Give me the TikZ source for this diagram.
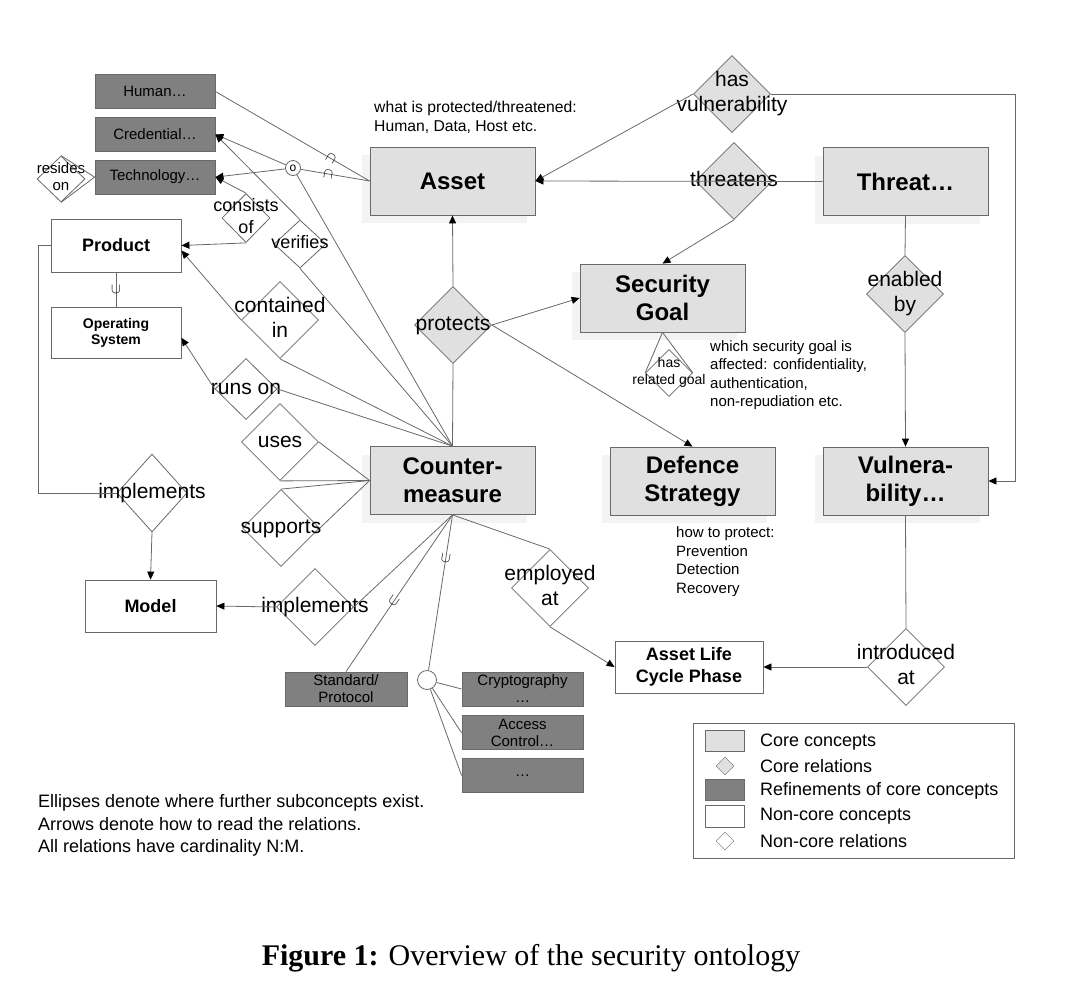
\documentclass[tikz,border=0pt]{standalone}
\usepackage{fontspec}
\setmainfont{Liberation Sans}
\newfontfamily\figfont{Liberation Serif}
\usepackage{tikz}
\usetikzlibrary{positioning, arrows.meta, shapes.geometric, shadows}
\definecolor{coregray} {RGB}{224, 224, 224}
\definecolor{refgray}  {RGB}{128, 128, 128}
\definecolor{linegray} {RGB}{105, 105, 105}
\definecolor{shadegray}{RGB}{243, 243, 243}
\newcommand{\fsz}[2]{\fontsize{#1pt}{#2pt}\selectfont}
% relation text that does not widen its diamond
\newcommand{\reltext}[1]{\makebox[0pt]{\begin{tabular}{@{}c@{}}#1\end{tabular}}}
\tikzset{
  % core concept box
  core/.style={
    rectangle, minimum width=165pt, minimum height=68pt,
    fill=coregray, draw=linegray, line width=0.8pt,
    font=\fsz{24}{28}\bfseries, align=center, text=black,
    drop shadow={shadow xshift=-8pt, shadow yshift=-8pt, fill=shadegray, opacity=1}
  },
  % refinement of a core concept
  refbox/.style={
    rectangle, minimum width=120pt, minimum height=34pt, inner sep=1pt,
    fill=refgray, draw=linegray, line width=0.8pt,
    font=\fsz{15}{17}, align=center
  },
  % non-core concept box
  ncbox/.style={
    rectangle, minimum width=130pt, minimum height=52pt,
    fill=white, draw=linegray, line width=0.8pt,
    font=\fsz{18}{22}\bfseries, align=center
  },
  % core relation diamond
  corerel/.style={
    diamond, minimum width=77pt, minimum height=77pt, inner sep=0pt,
    fill=coregray, draw=linegray, line width=0.8pt, font=\fsz{21}{25}
  },
  % non-core relation diamond
  ncrel/.style={corerel, fill=white},
  % small circle where lines split
  junction/.style={circle, draw=linegray, fill=white, line width=0.8pt, inner sep=0pt},
  % free text
  annot/.style={anchor=west, align=left, inner sep=0pt, font=\fsz{15}{18.5}},
  % subconcept mark on a line
  sym/.style={inner sep=0pt, font=\fsz{14}{14}},
  % legend text
  lgtext/.style={anchor=west, inner sep=0pt, font=\fsz{18}{18}},
  % connectors
  con/.style={draw=linegray, line width=0.8pt},
  arr/.style={con, -{Triangle[length=8pt, width=7pt, color=black]}},
}

\begin{document}
\begin{tikzpicture}[x=1pt, y=-1pt, node distance=8pt]
  \useasboundingbox (0,0) rectangle (1077,994);
  % core concepts
  \node[core] (asset)   at (452.5,181)   {Asset};
  \node[core] (threat)  at (905.5,181.5) {Threat…};
  \node[core] (secgoal) at (662.5,298)   {Security\\Goal};
  \node[core] (cm)      at (452.5,480.5) {Counter-\\measure};
  \node[core] (defence) at (692.5,481)   {Defence\\Strategy};
  \node[core] (vuln)    at (905.5,481)   {Vulnera-\\bility…};
  % refinements
  \node[refbox] (human) at (155,91.5) {Human…};
  \node[refbox, below=of human] (cred) {Credential…};
  \node[refbox, below=of cred]  (tech) {Technology…};
  \node[refbox, minimum width=122pt] (std) at (346,689) {Standard/\\Protocol};
  \node[refbox, minimum width=121pt] (crypto) at (522.5,689) {Cryptography\\…};
  \node[refbox, minimum width=121pt, below=9pt of crypto] (access) {Access\\Control…};
  \node[refbox, minimum width=121pt, below=of access] (more) {…};
  % non-core concepts
  \node[ncbox, minimum height=53pt] (product) at (116,245.5) {Product};
  \node[ncbox, minimum height=51pt, below=35pt of product, font=\fsz{14}{16}\bfseries] (os) {Operating\\System};
  \node[ncbox, minimum width=131pt] (model) at (150.5,606) {Model};
  \node[ncbox, minimum width=148pt] (alcp) at (689,667) {Asset Life\\Cycle Phase};
  % core relations
  \node[corerel] (hasvul)    at (732,94)  {\reltext{has\\vulnerability}};
  \node[corerel] (threatens) at (734,181) {\reltext{threatens}};
  \node[corerel] (protects)  at (453,325) {\reltext{protects}};
  \node[corerel] (enabled)   at (905,294) {\reltext{enabled\\by}};
  % non-core relations
  \node[ncrel, minimum width=48pt, minimum height=46pt, font=\fsz{15}{17}] (resides) at (61,179) {\reltext{resides\\on}};
  \node[ncrel, minimum width=48pt, minimum height=49pt, font=\fsz{18}{22}] (consists) at (246,218) {\reltext{consists\\of}};
  \node[ncrel, minimum width=52pt, minimum height=48pt, font=\fsz{18}{22}] (verifies) at (300,244) {\reltext{verifies}};
  \node[ncrel] (contained) at (280,320) {\reltext{contained\\in}};
  \node[ncrel, minimum width=62pt, minimum height=61pt] (runson) at (246,389) {\reltext{runs on}};
  \node[ncrel] (uses)     at (280,442) {\reltext{uses}};
  \node[ncrel] (supports) at (281,528) {\reltext{supports}};
  \node[ncrel, minimum width=70pt, minimum height=78pt] (implprod) at (152,493) {\reltext{implements}};
  \node[ncrel] (implcm)     at (315,607) {\reltext{implements}};
  \node[ncrel] (employed)   at (550,588) {\reltext{employed\\at}};
  \node[ncrel] (introduced) at (906,667) {\reltext{introduced\\at}};
  \node[ncrel, minimum width=47pt, minimum height=47pt, font=\fsz{14}{17}] (relgoal) at (669,373) {\reltext{has\\related goal}};
  % split circles
  \node[junction, minimum size=15pt, font=\fsz{12}{12}] (ocirc) at (293,168) {o};
  \node[junction, minimum size=19pt] (xcirc) at (427,680) {};
  % annotations
  \node[annot, font=\fsz{15.7}{19}] (assetnote) at (374,117.5) {what is protected/threatened:\\Human, Data, Host etc.};
  \node[annot] (goalnote) at (710,375) {which security goal is\\affected: confidentiality,\\authentication,\\non-repudiation etc.};
  \node[annot] (defnote) at (676,561.5) {how to protect:\\Prevention\\Detection\\Recovery};
  \node[annot, font=\fsz{18}{22.5}] (readnote) at (38,825.5) {Ellipses denote where further subconcepts exist.\\Arrows denote how to read the relations.\\All relations have cardinality N:M.};

  % Asset side
  \draw[con] (human.east) -- node[sym, pos=.75, rotate=-30] {$\cap$} (asset.west);
  \draw[con] (ocirc) -- node[sym, pos=.4, rotate=-10] {$\cap$} (asset.west);
  \draw[arr] (ocirc) -- (cred.east);
  \draw[arr] (ocirc) -- (tech.east);
  \draw[con] (ocirc) -- (cm.north);
  \draw[con] (tech.west) -- (resides.north);
  \draw[con] (tech.west) -- (resides.south);
  \draw[arr] (verifies.north) -- (cred.east);
  \draw[con] (verifies.south) -- (cm.north);
  \draw[arr] (consists.north) -- (tech.east);
  \draw[arr] (consists.south) -- (product.east);
  \draw[arr] (contained.west) -- ([yshift=-5pt]product.east);
  \draw[con] (contained.south) -- (cm.north);
  \draw[arr] (runson.west) -- ([yshift=-4.5pt]os.east);
  \draw[con] (runson.east) -- (cm.north);
  \draw[con] (uses.east) -- (cm.west);
  \draw[con] (uses.south) -- (cm.west);
  \draw[con] (supports.north) -- (cm.west);
  \draw[con] (supports.east) -- (cm.west);
  \draw[con] (product.south) -- node[sym] {$\cup$} (os.north);
  \draw[con] (product.west) -- ++(-12,0) |- (implprod.west);
  \draw[arr] (implprod.south) -- (model.north);
  % Countermeasure below
  \draw[con] (cm.south) -- (implcm.east);
  \draw[arr] (implcm.west) -- (model.east);
  \draw[con] (cm.south) -- node[sym, pos=.55, rotate=-35] {$\cup$} (std.north);
  \draw[con] (cm.south) -- node[sym, pos=.28, rotate=-10] {$\cup$} (xcirc);
  \draw[con] (xcirc) -- (crypto.west);
  \draw[con] (xcirc) -- (access.west);
  \draw[con] (xcirc) -- (more.west);
  \draw[con] (cm.south) -- (employed.north);
  \draw[arr] (employed.south) -- (alcp.west);
  % core relations
  \draw[con] (cm.north) -- (protects.south);
  \draw[arr] (protects.north) -- (asset.south);
  \draw[arr] (protects.east) -- (secgoal.west);
  \draw[arr] (protects.east) -- (defence.north);
  \draw[arr] (threat.west) -- (asset.east);
  \draw[arr] (threatens.south) -- (secgoal.north);
  \draw[arr] (hasvul.west) -- (asset.east);
  \draw[arr] (hasvul.east) -- ++(244,0) |- (vuln.east);
  \draw[con] (threat.south) -- (enabled.north);
  \draw[arr] (enabled.south) -- (vuln.north);
  \draw[con] (vuln.south) -- (introduced.north);
  \draw[arr] (introduced.west) -- (alcp.east);
  \draw[con] (secgoal.south) -- (relgoal.west);
  \draw[con] (secgoal.south) -- (relgoal.east);

  % legend
  \node[draw=linegray, line width=0.8pt, minimum width=321pt, minimum height=135pt] (legend) at (853.5,790.5) {};
  \node[fill=coregray, draw=linegray, minimum width=39pt, minimum height=21pt] (lgcore) at (724.5,740.5) {};
  \node[diamond, fill=coregray, draw=linegray, minimum size=18pt, inner sep=0pt] (lgcorerel) at (725,766) {};
  \node[fill=refgray, draw=linegray, minimum width=39pt, minimum height=21pt] (lgref) at (724.5,789.5) {};
  \node[fill=white, draw=linegray, minimum width=39pt, minimum height=22pt] (lgnc) at (724.5,816) {};
  \node[diamond, fill=white, draw=linegray, minimum size=18pt, inner sep=0pt] (lgncrel) at (725,841) {};
  \node[lgtext] (lgt1) at (760,742) {Core concepts};
  \node[lgtext] (lgt2) at (760,766) {Core relations};
  \node[lgtext] (lgt3) at (760,791) {Refinements of core concepts};
  \node[lgtext] (lgt4) at (760,816) {Non-core concepts};
  \node[lgtext] (lgt5) at (760,841) {Non-core relations};

  % caption
  \node[font=\figfont\fsz{30}{30}] (caption) at (531,958) {\textbf{Figure 1:} Overview of the security ontology};
\end{tikzpicture}
\end{document}
